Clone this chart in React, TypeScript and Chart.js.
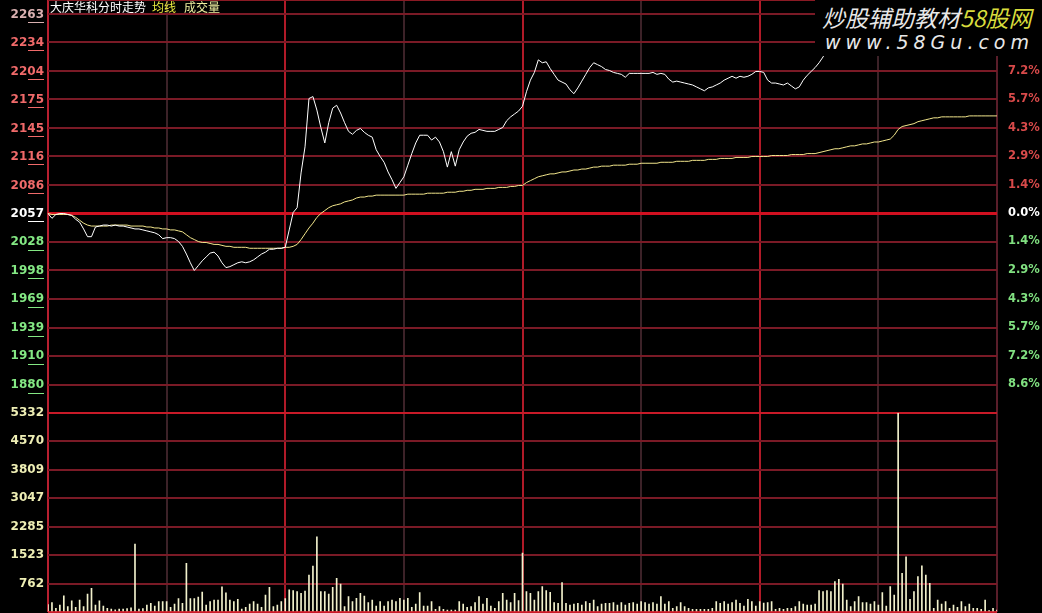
import React, { useEffect, useRef } from 'react';
import { Chart, registerables } from 'chart.js';

Chart.register(...registerables);

// ---------- data ----------
const PREV_CLOSE = 2057;
const PRICE_STEP = 29.46;

const PRICE_TICKS = [2263, 2234, 2204, 2175, 2145, 2116, 2086, 2057, 2028, 1998, 1969, 1939, 1910, 1880];
const PCT_TICK_PRICES = [2204, 2175, 2145, 2116, 2086, 2057, 2028, 1998, 1969, 1939, 1910, 1880];
const PCT_LABELS = ['7.2%', '5.7%', '4.3%', '2.9%', '1.4%', '0.0%', '1.4%', '2.9%', '4.3%', '5.7%', '7.2%', '8.6%'];
const VOLUME_TICKS = [5332, 4570, 3809, 3047, 2285, 1523, 762, 0];
const VOLUME_MAX = 5332;

const TITLE = '大庆华科分时走势';
const AVG_LABEL = '均线';
const VOL_LABEL = '成交量';

// per-minute last price (241 minutes)
const PRICE = [
  2057, 2052, 2056, 2057, 2057, 2056, 2055, 2051, 2048, 2041,
  2033, 2033, 2043, 2044, 2045, 2045, 2044, 2045, 2044, 2044,
  2043, 2042, 2041, 2041, 2040, 2039, 2038, 2037, 2035, 2031,
  2032, 2032, 2031, 2028, 2023, 2015, 2006, 1998, 2003, 2008,
  2012, 2016, 2017, 2013, 2006, 2001, 2002, 2004, 2006, 2007,
  2006, 2007, 2009, 2012, 2015, 2017, 2020, 2020, 2021, 2021,
  2022, 2040, 2058, 2063, 2099, 2126, 2176, 2178, 2164, 2146,
  2130, 2151, 2166, 2169, 2161, 2151, 2142, 2139, 2143, 2145,
  2141, 2138, 2136, 2123, 2116, 2110, 2100, 2092, 2083, 2089,
  2095, 2107, 2119, 2130, 2138, 2138, 2138, 2133, 2136, 2131,
  2121, 2105, 2121, 2106, 2123, 2131, 2137, 2140, 2141, 2144,
  2143, 2142, 2142, 2142, 2144, 2146, 2153, 2157, 2160, 2163,
  2168, 2183, 2195, 2203, 2216, 2213, 2214, 2207, 2201, 2195,
  2193, 2191, 2185, 2181, 2187, 2194, 2201, 2208, 2213, 2211,
  2209, 2206, 2205, 2203, 2202, 2201, 2198, 2202, 2202, 2202,
  2202, 2202, 2202, 2203, 2201, 2202, 2201, 2196, 2193, 2194,
  2193, 2192, 2191, 2190, 2188, 2186, 2184, 2187, 2188, 2190,
  2192, 2195, 2197, 2199, 2197, 2199, 2198, 2199, 2201, 2204,
  2204, 2203, 2195, 2192, 2192, 2191, 2190, 2192, 2189, 2186,
  2188, 2195, 2200, 2204, 2208, 2213, 2219, 2226, 2230, 2234,
  2236, 2240, 2238, 2241, 2245, 2248, 2246, 2250, 2252, 2255,
  2253, 2256, 2258, 2260, 2263, 2263, 2263, 2263, 2263, 2263,
  2263, 2263, 2263, 2263, 2263, 2263, 2263, 2263, 2263, 2263,
  2263, 2263, 2263, 2263, 2263, 2263, 2263, 2263, 2263, 2263,
  2263,
];

// per-minute average price
const AVG_PRICE = [
  2057, 2056, 2056, 2056, 2056, 2056, 2055, 2053, 2050, 2047,
  2045, 2044, 2044, 2044, 2044, 2044, 2045, 2045, 2045, 2045,
  2045, 2044, 2044, 2044, 2044, 2043, 2043, 2042, 2042, 2041,
  2041, 2040, 2040, 2039, 2038, 2035, 2032, 2030, 2028, 2027,
  2027, 2026, 2025, 2025, 2024, 2023, 2023, 2022, 2022, 2022,
  2022, 2021, 2021, 2021, 2021, 2021, 2021, 2021, 2021, 2021,
  2022, 2022, 2023, 2025, 2030, 2036, 2042, 2047, 2053, 2057,
  2060, 2063, 2065, 2066, 2067, 2069, 2070, 2071, 2073, 2074,
  2074, 2075, 2075, 2076, 2076, 2076, 2076, 2076, 2076, 2076,
  2076, 2077, 2077, 2077, 2077, 2077, 2078, 2078, 2078, 2078,
  2078, 2079, 2079, 2079, 2080, 2080, 2081, 2081, 2082, 2082,
  2082, 2083, 2083, 2083, 2084, 2084, 2084, 2085, 2085, 2086,
  2086, 2089, 2091, 2093, 2095, 2096, 2097, 2098, 2098, 2099,
  2100, 2100, 2101, 2102, 2102, 2103, 2103, 2104, 2105, 2105,
  2106, 2106, 2106, 2107, 2107, 2107, 2107, 2108, 2108, 2108,
  2109, 2109, 2109, 2109, 2109, 2110, 2110, 2110, 2110, 2111,
  2111, 2111, 2111, 2112, 2112, 2112, 2112, 2113, 2113, 2113,
  2114, 2114, 2114, 2114, 2115, 2115, 2115, 2115, 2116, 2116,
  2116, 2116, 2116, 2117, 2117, 2117, 2117, 2117, 2118, 2118,
  2118, 2118, 2119, 2119, 2119, 2120, 2121, 2122, 2123, 2124,
  2124, 2125, 2126, 2127, 2127, 2128, 2129, 2129, 2130, 2131,
  2131, 2132, 2133, 2134, 2138, 2144, 2147, 2148, 2149, 2150,
  2152, 2153, 2154, 2155, 2156, 2156, 2157, 2157, 2157, 2157,
  2157, 2157, 2157, 2158, 2158, 2158, 2158, 2158, 2158, 2158,
  2158,
];

// per-minute volume
const VOLUME = [
  200,
  250, 100, 187, 436, 142, 302, 125, 320, 142, 481,
  633, 187, 302, 160, 100, 80, 60, 80, 80, 90,
  110, 1818, 80, 90, 187, 230, 160, 280, 280, 280,
  125, 210, 360, 230, 1300, 360, 360, 400, 530, 187,
  280, 320, 320, 676, 515, 320, 280, 340, 80, 125,
  210, 280, 210, 125, 450, 660, 142, 187, 280, 360,
  590, 570, 544, 499, 561, 989, 1230, 2013, 544, 544,
  481, 659, 900, 748, 142, 410, 276, 365, 499, 428,
  250, 320, 160, 276, 160, 276, 320, 276, 365, 320,
  365, 125, 214, 517, 160, 160, 276, 71, 142, 71,
  53, 53, 53, 276, 214, 125, 142, 250, 410, 214,
  365, 160, 100, 276, 499, 320, 250, 499, 303, 1580,
  544, 499, 320, 544, 677, 570, 526, 250, 232, 784,
  232, 187, 214, 232, 187, 276, 232, 320, 142, 214,
  232, 232, 250, 187, 250, 187, 232, 250, 214, 276,
  250, 214, 250, 214, 410, 214, 276, 98, 142, 250,
  142, 98, 71, 71, 71, 71, 71, 98, 276, 232,
  276, 214, 250, 320, 232, 160, 339, 276, 160, 276,
  240, 250, 276, 71, 98, 71, 98, 98, 142, 276,
  214, 187, 187, 214, 570, 544, 570, 544, 811, 873,
  748, 320, 142, 276, 410, 250, 250, 214, 276, 187,
  517, 160, 677, 454, 5320, 1034, 1479, 339, 544, 945,
  1238, 989, 766, 98, 320, 214, 276, 98, 187, 125,
  276, 142, 214, 98, 98, 71, 320, 36, 98, 53,
];

const MINUTES = PRICE.map((_, i) => {
  const t = i <= 120 ? 9 * 60 + 30 + i : 13 * 60 + (i - 120);
  return `${String(Math.floor(t / 60)).padStart(2, '0')}:${String(t % 60).padStart(2, '0')}`;
});

// ---------- derived axis ranges ----------
const PRICE_MAX = PREV_CLOSE + 7.5 * PRICE_STEP;
const PRICE_MIN = PREV_CLOSE - 7 * PRICE_STEP;
const RIGHT_MIN = PREV_CLOSE - 14 * PRICE_STEP;

// ---------- colours ----------
const UP_LABEL = '#f06a6a';
const TOP_LABEL = '#d9b0b0';
const DOWN_LABEL = '#84e884';
const FLAT_LABEL = '#ffffff';
const VOL_LABEL_COLOR = '#eeeeb4';
const PCT_UP = '#d84a4a';
const PCT_DOWN = '#80e080';
const GRID_DIM = '#7a1a26';
const GRID_BRIGHT = '#c81a28';
const GRID_HALF = '#3c2228';

function priceLabelColor(v: number) {
  if (v === 2263) return TOP_LABEL;
  if (v > PREV_CLOSE) return UP_LABEL;
  if (v === PREV_CLOSE) return FLAT_LABEL;
  return DOWN_LABEL;
}

const underlinePlugin = {
  id: 'labelUnderline',
  afterDraw(chart: any) {
    const s = chart.scales.yp;
    const ctx = chart.ctx;
    ctx.save();
    ctx.lineWidth = 1;
    PRICE_TICKS.forEach((v) => {
      const y = Math.round(s.getPixelForValue(v)) + 8.5;
      ctx.strokeStyle = priceLabelColor(v);
      ctx.beginPath();
      ctx.moveTo(28, y);
      ctx.lineTo(44, y);
      ctx.stroke();
    });
    ctx.restore();
  },
};

const tickFont = { family: 'DejaVu Sans', size: 12, weight: 'bold' as const };

export default function App() {
  const canvasRef = useRef<HTMLCanvasElement>(null);

  useEffect(() => {
    document.body.style.margin = '0';
    document.body.style.background = '#000';
    const canvas = canvasRef.current!;
    const chart = new Chart(canvas, {
      type: 'bar',
      data: {
        labels: MINUTES,
        datasets: [
          {
            type: 'line',
            label: 'price',
            data: PRICE,
            yAxisID: 'yp',
            borderColor: '#ffffff',
            borderWidth: 1,
            pointRadius: 0,
            tension: 0,
            order: 1,
          } as any,
          {
            type: 'line',
            label: 'avg',
            data: AVG_PRICE,
            yAxisID: 'yp',
            borderColor: '#f2e68c',
            borderWidth: 1,
            pointRadius: 0,
            tension: 0,
            order: 2,
          } as any,
          {
            type: 'bar',
            label: 'volume',
            data: VOLUME,
            yAxisID: 'yv',
            backgroundColor: '#f2f1cc',
            borderWidth: 0,
            barThickness: 1,
            order: 3,
          } as any,
        ],
      },
      options: {
        animation: false,
        responsive: false,
        devicePixelRatio: 1,
        events: [],
        layout: { padding: { top: 0, left: 0, right: 0, bottom: 1 } },
        plugins: { legend: { display: false }, title: { display: false }, tooltip: { enabled: false } },
        scales: {
          x: {
            type: 'category',
            offset: false,
            grid: {
              offset: false,
              drawTicks: false,
              color: (ctx: any) => {
                const i = ctx.index;
                if (i === 0) return '#b82030';
                if (i === 240) return '#5a1e2a';
                if (i % 60 === 0) return '#b01a28';
                if (i % 30 === 0) return GRID_HALF;
                return 'rgba(0,0,0,0)';
              },
              lineWidth: (ctx: any) => (ctx.index % 30 === 0 ? 2 : 0),
            },
            ticks: { display: false, autoSkip: false },
            border: { display: false },
            afterFit: (s: any) => {
              s.height = 0;
              s.paddingLeft = 0;
              s.paddingRight = 0;
            },
          },
          yp: {
            type: 'linear',
            position: 'left',
            stack: 'left',
            stackWeight: 14.5,
            weight: 2,
            min: PRICE_MIN,
            max: PRICE_MAX,
            afterBuildTicks: (s: any) => {
              s.ticks = [...PRICE_TICKS].reverse().concat([PRICE_MAX]).map((v) => ({ value: v }));
            },
            ticks: {
              autoSkip: false,
              padding: 4,
              font: tickFont,
              color: (ctx: any) => priceLabelColor(ctx.tick.value),
              callback: (v: any) => (PRICE_TICKS.includes(v) ? String(v) : ''),
            },
            grid: {
              drawTicks: false,
              color: (ctx: any) => {
                const v = ctx.tick && ctx.tick.value;
                if (v === PREV_CLOSE) return '#d01020';
                if (v === PRICE_MAX) return '#8a1a24';
                return GRID_DIM;
              },
              lineWidth: (ctx: any) => (ctx.tick && ctx.tick.value === PREV_CLOSE ? 3 : 2),
            },
            border: { display: false },
            afterFit: (s: any) => {
              s.width = 48;
              s.paddingTop = 0;
              s.paddingBottom = 0;
            },
          },
          yv: {
            type: 'linear',
            position: 'left',
            stack: 'left',
            stackWeight: 7,
            weight: 1,
            min: 0,
            max: VOLUME_MAX,
            afterBuildTicks: (s: any) => {
              s.ticks = [...VOLUME_TICKS].reverse().map((v) => ({ value: v }));
            },
            ticks: {
              autoSkip: false,
              padding: 4,
              font: tickFont,
              color: VOL_LABEL_COLOR,
              callback: (v: any) => (v === 0 ? '' : String(v)),
            },
            grid: {
              drawTicks: false,
              color: (ctx: any) => {
                const v = ctx.tick && ctx.tick.value;
                if (v === VOLUME_MAX || v === 0) return GRID_BRIGHT;
                return GRID_DIM;
              },
              lineWidth: 2,
            },
            border: { display: false },
            afterFit: (s: any) => {
              s.width = 48;
              s.paddingTop = 0;
              s.paddingBottom = 0;
            },
          },
          yr: {
            type: 'linear',
            position: 'right',
            min: RIGHT_MIN,
            max: PRICE_MAX,
            afterBuildTicks: (s: any) => {
              s.ticks = [...PCT_TICK_PRICES].reverse().map((v) => ({ value: v }));
            },
            ticks: {
              autoSkip: false,
              padding: 3,
              font: { family: 'DejaVu Sans', size: 11.5, weight: 'bold' as const },
              color: (ctx: any) => {
                const v = ctx.tick.value;
                if (v > PREV_CLOSE) return PCT_UP;
                if (v === PREV_CLOSE) return FLAT_LABEL;
                return PCT_DOWN;
              },
              callback: (v: any) => {
                const i = PCT_TICK_PRICES.indexOf(v);
                return i >= 0 ? PCT_LABELS[i] : '';
              },
            },
            grid: { display: false },
            border: { display: false },
            afterFit: (s: any) => {
              s.width = 45;
              s.paddingTop = 0;
              s.paddingBottom = 0;
            },
          },
        } as any,
      },
      plugins: [underlinePlugin],
    });
    return () => chart.destroy();
  }, []);

  return (
    <div style={{ position: 'relative', width: 1042, height: 613, background: '#000', overflow: 'hidden' }}>
      <canvas ref={canvasRef} width={1042} height={613} style={{ display: 'block', width: 1042, height: 613 }} />
      <div
        style={{
          position: 'absolute',
          left: 50,
          top: 0,
          fontFamily: '"Noto Sans CJK SC", sans-serif',
          fontSize: 12,
          lineHeight: '14px',
          whiteSpace: 'nowrap',
        }}
      >
        <span style={{ color: '#ffffff' }}>{TITLE}</span>
        <span style={{ color: '#eaea40', marginLeft: 6 }}>{AVG_LABEL}</span>
        <span style={{ color: '#f0f0a0', marginLeft: 8 }}>{VOL_LABEL}</span>
      </div>
      <div
        style={{
          position: 'absolute',
          left: 815,
          top: 0,
          width: 227,
          height: 56,
          background: '#000',
          whiteSpace: 'nowrap',
        }}
      >
        <div
          style={{
            position: 'absolute',
            left: 7,
            top: 4,
            fontFamily: '"Noto Sans CJK SC", sans-serif',
            fontSize: 23,
            lineHeight: '26px',
            fontStyle: 'italic',
            color: '#e8e8e8',
          }}
        >
          炒股辅助教材<span style={{ color: '#d8dc3c' }}>58股网</span>
        </div>
        <div
          style={{
            position: 'absolute',
            left: 10,
            top: 31,
            fontFamily: '"DejaVu Sans", sans-serif',
            fontSize: 19,
            lineHeight: '22px',
            fontStyle: 'italic',
            letterSpacing: 5,
            color: '#e8e8e8',
          }}
        >
          www.58Gu.com
        </div>
      </div>
    </div>
  );
}
